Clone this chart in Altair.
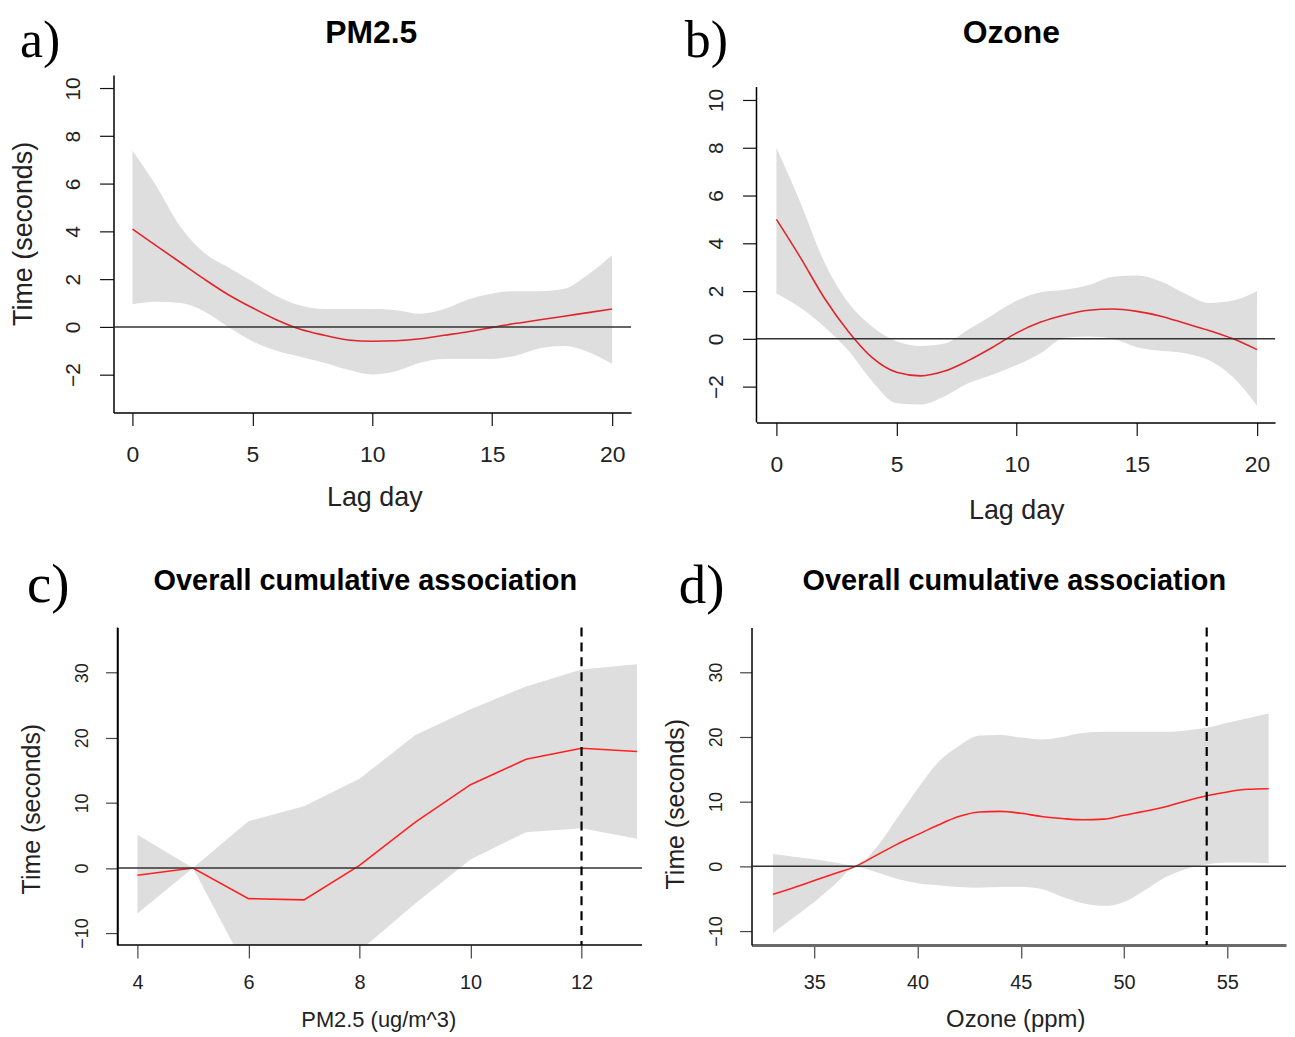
import altair as alt
import pandas as pd

# ---------------- data ----------------
lag = list(range(21))
pm_fit = [4.1, 3.4, 2.7, 2.0, 1.35, 0.8, 0.3, -0.1, -0.35, -0.55, -0.6, -0.58, -0.5, -0.35, -0.2, -0.02, 0.15, 0.3, 0.45, 0.6, 0.75]
pm_hi = [7.4, 5.9, 4.2, 3.1, 2.5, 1.9, 1.3, 0.9, 0.75, 0.75, 0.75, 0.7, 0.55, 0.75, 1.15, 1.4, 1.5, 1.5, 1.6, 2.2, 3.0]
pm_lo = [0.95, 1.05, 1.0, 0.65, 0.0, -0.6, -1.0, -1.25, -1.5, -1.8, -2.0, -1.85, -1.5, -1.35, -1.35, -1.35, -1.2, -0.9, -0.8, -1.05, -1.55]

oz_fit = [5.0, 3.4, 1.7, 0.3, -0.8, -1.4, -1.55, -1.35, -0.9, -0.35, 0.25, 0.7, 1.0, 1.2, 1.25, 1.15, 0.95, 0.65, 0.35, 0.0, -0.45]
oz_hi = [8.0, 5.7, 3.2, 1.5, 0.5, -0.1, -0.3, -0.2, 0.4, 1.0, 1.6, 1.95, 2.05, 2.25, 2.6, 2.65, 2.4, 1.9, 1.5, 1.6, 2.0]
oz_lo = [1.9, 1.3, 0.5, -0.5, -1.8, -2.7, -2.75, -2.4, -1.85, -1.5, -1.1, -0.6, 0.05, 0.1, 0.0, -0.35, -0.5, -0.6, -0.9, -1.6, -2.8]

pm_conc = [4, 5, 6, 7, 8, 9, 10, 11, 12, 13]
pmc_fit = [-1.1, 0.0, -4.7, -4.9, 0.4, 7.0, 12.8, 16.7, 18.4, 17.9]
pmc_hi = [5.1, 0.0, 7.2, 9.5, 13.7, 20.4, 24.4, 27.9, 30.5, 31.3]
pmc_lo = [-7.0, 0.0, -16.1, -17.0, -12.75, -5.5, 1.3, 5.5, 6.1, 4.5]

oz_conc = list(range(33, 58))
ozc_fit = [-4.3, -3.3, -2.2, -1.1, 0.0, 1.7, 3.4, 4.9, 6.4, 7.7, 8.4, 8.5, 8.2, 7.7, 7.4, 7.2, 7.3, 7.9, 8.5, 9.2, 10.1, 10.9, 11.5, 11.9, 12.0]
ozc_hi = [1.9, 1.5, 1.1, 0.6, 0.1, 2.9, 7.4, 12.0, 16.1, 18.6, 20.2, 20.3, 19.9, 19.6, 20.0, 20.6, 20.8, 20.8, 20.8, 20.8, 21.0, 21.4, 22.2, 22.9, 23.6]
ozc_lo = [-10.3, -7.9, -5.5, -2.8, -0.1, -0.9, -1.9, -2.6, -2.9, -3.2, -3.3, -3.2, -3.2, -3.5, -4.7, -5.7, -6.1, -5.5, -3.7, -1.7, -0.4, 0.3, 0.6, 0.6, 0.5]

SANS = "Liberation Sans"
SERIF = "Liberation Serif"


def one_row():
    return pd.DataFrame({"k": [0]})


def text_mark(s, x, y, size, font, weight="normal", align="left",
              baseline="alphabetic", opacity=1.0):
    return alt.Chart(one_row()).mark_text(
        font=font, fontSize=size, fontWeight=weight, align=align,
        baseline=baseline, color="black", opacity=opacity
    ).encode(x=alt.value(x), y=alt.value(y), text=alt.value(s))


def panel(xs, fit, hi, lo, xdom, ydom, xticks, yticks, w, h, interp,
          xtitle, ytitle, xt_pos, yt_pos, letter, letter_pos, letter_size, title,
          title_pos, title_size, anchor_pos, style, extra=None, vline=None,
          yline=None, xshift=0):
    # xshift: extra pixels added to the left of the drawing area (axis kept in place)
    df = pd.DataFrame({"x": xs, "fit": fit, "hi": hi, "lo": lo})
    span = xdom[1] - xdom[0]
    xlo = xdom[0] - xshift * span / w
    xsc = alt.Scale(domain=[xlo, xdom[1]], nice=False, zero=False)
    ysc = alt.Scale(domain=ydom, nice=False, zero=False)
    xaxis = alt.Axis(
        values=xticks, grid=False, title=xtitle, titleX=xt_pos[0] + xshift, titleY=xt_pos[1],
        titleAlign="center", titleBaseline="alphabetic", titleFont=SANS,
        titleFontSize=style["xtitle"], titleFontWeight="normal", titleColor="#222",
        labelFont=SANS, labelFontSize=style["xlab"], labelColor="#222",
        labelPadding=style["xpad"], tickSize=style["xtick"], tickColor=style["tickc"],
        tickWidth=1.2, domain=(xshift == 0), domainColor=style["xdomc"],
        domainWidth=style["xdomw"], labelOverlap=False, format="d")
    yaxis = alt.Axis(
        values=yticks, grid=False, title=ytitle, titleX=yt_pos[0], titleY=yt_pos[1],
        titleAngle=270, titleAlign="center", titleBaseline="bottom", titleFont=SANS,
        titleFontSize=style["ytitle"], titleFontWeight="normal", titleColor="#222",
        labelFont=SANS, labelFontSize=style["ylab"], labelAngle=270, labelAlign="center",
        labelBaseline="bottom", labelColor="#222", labelPadding=style["ypad"],
        tickSize=style["ytick"], tickColor=style["tickc"], tickWidth=1.2,
        domain=(yline is None), domainColor="black", domainWidth=1.5,
        labelOverlap=False, format="d", offset=-xshift)
    band = alt.Chart(df).mark_area(color="#dedede", interpolate=interp, clip=True).encode(
        x=alt.X("x:Q", scale=xsc, axis=xaxis),
        y=alt.Y("lo:Q", scale=ysc, axis=yaxis),
        y2="hi:Q")
    line = alt.Chart(df).mark_line(color=style["red"], strokeWidth=1.6,
                                   interpolate=interp, clip=True).encode(
        x=alt.X("x:Q", title=xtitle), y=alt.Y("fit:Q", title=ytitle))
    if xshift == 0:
        zero = alt.Chart(pd.DataFrame({"x": [0.0], "fit": [0.0]})).mark_rule(
            color="#333", strokeWidth=1.5).encode(y=alt.Y("fit:Q", title=ytitle))
    else:
        zero = alt.Chart(pd.DataFrame({"x": [xdom[0]], "x2": [xdom[1]], "fit": [0.0]})).mark_rule(
            color="#333", strokeWidth=1.5).encode(
            x=alt.X("x:Q", title=xtitle), x2="x2:Q", y=alt.Y("fit:Q", title=ytitle))
    layers = [band, line, zero]
    if xshift > 0:
        # axis lines of the drawing box (left and bottom), through the scales
        layers.append(alt.Chart(pd.DataFrame({"x": [xdom[0]], "x2": [xdom[1]]})).mark_rule(
            color=style["xdomc"], strokeWidth=style["xdomw"]).encode(
            x=alt.X("x:Q", title=xtitle), x2="x2:Q", y=alt.value(h)))
        layers.append(alt.Chart(pd.DataFrame({"x": [xdom[0]]})).mark_rule(
            color="black", strokeWidth=1.5).encode(x=alt.X("x:Q", title=xtitle)))
    if yline is not None:
        layers.append(alt.Chart(one_row()).mark_rule(color="black", strokeWidth=1.5).encode(
            x=alt.value(0), y=alt.datum(yline[1]), y2=alt.datum(yline[0])))
    if vline is not None:
        layers.append(alt.Chart(pd.DataFrame({"x": [vline]})).mark_rule(
            color="black", strokeWidth=2.2, strokeDash=[9, 6]).encode(
            x=alt.X("x:Q", title=xtitle)))
    layers.append(text_mark(letter, letter_pos[0] + xshift, letter_pos[1], letter_size, SERIF))
    layers.append(text_mark(title, title_pos[0] + xshift, title_pos[1], title_size, SANS,
                            weight="bold", align="center"))
    layers.append(text_mark(".", anchor_pos[0], anchor_pos[1], 1, SANS,
                            baseline="top", opacity=0))
    if extra is not None:
        layers.append(text_mark(".", extra[0], extra[1], 1, SANS,
                                baseline="top", opacity=0))
    return alt.layer(*layers).properties(width=w + xshift, height=h)


top_style = dict(xtitle=27, ytitle=27, xlab=23, ylab=21, xpad=18, ypad=16,
                 xtick=13, ytick=14, tickc="#111", xdomc="black", xdomw=1.5,
                 red="#e0262b")
bot_style_c = dict(xtitle=22, ytitle=25, xlab=20, ylab=18, xpad=15, ypad=14,
                   xtick=13, ytick=12, tickc="#444", xdomc="black", xdomw=1.5,
                   red="#ff2020")
bot_style_d = dict(bot_style_c, xtitle=24, xdomc="#6a6a6a", xdomw=3)

pa = panel(lag, pm_fit, pm_hi, pm_lo, [-0.79, 20.79], [-3.59, 10.56],
           [0, 5, 10, 15, 20], [-2, 0, 2, 4, 6, 8, 10], 520, 339, "monotone",
           "Lag day", "Time (seconds)", (262, 93), (-76, 159),
           "a)", (-94, -18), 52, "PM2.5", (259, -32), 32, (-117, -70), top_style,
           extra=(0, 478))
pb = panel(lag, oz_fit, oz_hi, oz_lo, [-0.83, 20.75], [-3.5, 11.04],
           [0, 5, 10, 15, 20], [-2, 0, 2, 4, 6, 8, 10], 521, 349, "monotone",
           "Lag day", "", (261, 96), (-76, 160),
           "b)", (-72, -18), 52, "Ozone", (256, -32), 32, (-117, -70), top_style,
           yline=(-3.5, 10.54))
pc = panel(pm_conc, pmc_fit, pmc_hi, pmc_lo, [3.64, 13.09], [-11.83, 36.95],
           [4, 6, 8, 10, 12], [-10, 0, 10, 20, 30], 527, 319, "linear",
           "PM2.5 (ug/m^3)", "Time (seconds)", (262, 82), (-73, 182),
           "c)", (-91, -26), 55, "Overall cumulative association", (249, -38), 29,
           (-117, -76), bot_style_c, vline=12, xshift=4)
pd_ = panel(oz_conc, ozc_fit, ozc_hi, ozc_lo, [31.96, 57.84], [-12.15, 36.9],
            [35, 40, 45, 50, 55], [-10, 0, 10, 20, 30], 537, 319, "monotone",
            "Ozone (ppm)", "Time (seconds)", (265, 82), (-63, 177),
            "d)", (-73, -25), 55, "Overall cumulative association", (264, -38), 29,
            (-105, -76), bot_style_d, vline=54)

row1 = alt.hconcat(pa, pb, spacing=8).resolve_scale(x="independent", y="independent")
row2 = alt.hconcat(pc, pd_, spacing=4).resolve_scale(x="independent", y="independent")

chart = alt.vconcat(row1, row2, spacing=0).properties(
    padding={"left": -11, "top": -5, "right": 0, "bottom": 0},
    background="white"
).configure_view(strokeWidth=0)

chart.save("out.html", embed_options={"renderer": "svg", "actions": False})
